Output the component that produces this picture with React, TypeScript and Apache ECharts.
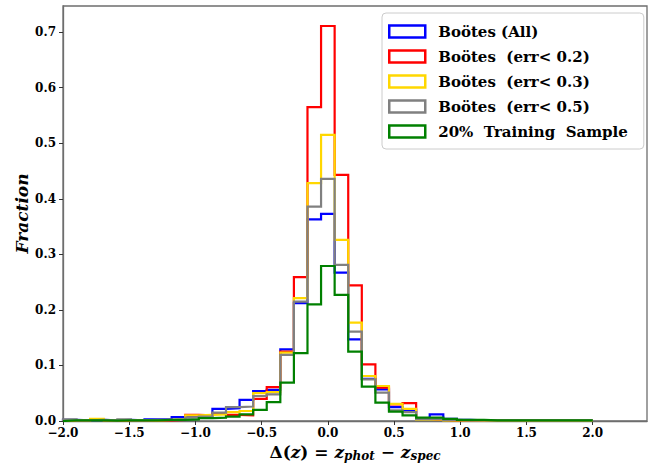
import React, { useEffect, useRef } from "react";
import * as echarts from "echarts";

// Bin edges: 40 edges between -2 and 2 (39 bins)
const BIN_MIN = -2;
const BIN_MAX = 2;
const N_EDGES = 40;

const SERIES_NAMES = [
  "Boötes (All)",
  "Boötes  (err< 0.2)",
  "Boötes  (err< 0.3)",
  "Boötes  (err< 0.5)",
  "20%  Training  Sample",
];
const SERIES_COLORS = ["#0000ff", "#ff0000", "#ffd700", "#808080", "#008000"];

const bootesAll = [
  0.002, 0.001, 0.002, 0.001, 0.002, 0.001, 0.003, 0.003, 0.007, 0.008,
  0.010, 0.022, 0.023, 0.038, 0.054, 0.056, 0.129, 0.212, 0.363, 0.373,
  0.267, 0.147, 0.076, 0.057, 0.025, 0.020, 0.004, 0.012, 0.004, 0.002,
  0.001, 0.001, 0.001, 0.001, 0.001, 0.001, 0.001, 0.001, 0.001,
];
const bootesErr02 = [
  0.001, 0.0005, 0.002, 0.0005, 0.001, 0.0005, 0.001, 0.001, 0.002, 0.011,
  0.010, 0.013, 0.011, 0.010, 0.040, 0.061, 0.125, 0.259, 0.565, 0.711,
  0.443, 0.244, 0.102, 0.060, 0.030, 0.032, 0.002, 0.002, 0.001, 0.001,
  0.0005, 0.0005, 0.0005, 0.0005, 0.0005, 0.0005, 0.0005, 0.0005, 0.0005,
];
const bootesErr03 = [
  0.001, 0.001, 0.004, 0.001, 0.001, 0.001, 0.001, 0.002, 0.003, 0.010,
  0.011, 0.012, 0.016, 0.018, 0.050, 0.052, 0.123, 0.221, 0.428, 0.515,
  0.326, 0.177, 0.081, 0.063, 0.031, 0.022, 0.002, 0.003, 0.001, 0.001,
  0.0005, 0.0005, 0.0005, 0.0005, 0.0005, 0.0005, 0.0005, 0.0005, 0.0005,
];
const bootesErr05 = [
  0.003, 0.001, 0.002, 0.001, 0.003, 0.001, 0.002, 0.002, 0.003, 0.006,
  0.008, 0.015, 0.025, 0.026, 0.045, 0.048, 0.119, 0.215, 0.386, 0.436,
  0.281, 0.161, 0.075, 0.051, 0.019, 0.016, 0.003, 0.004, 0.002, 0.001,
  0.001, 0.001, 0.001, 0.001, 0.001, 0.001, 0.001, 0.001, 0.001,
];
const trainingSample = [
  0.001, 0.001, 0.001, 0.0005, 0.001, 0.001, 0.001, 0.002, 0.002, 0.003,
  0.005, 0.006, 0.008, 0.012, 0.020, 0.034, 0.069, 0.122, 0.210, 0.279,
  0.227, 0.125, 0.062, 0.033, 0.017, 0.010, 0.006, 0.006, 0.004, 0.002,
  0.002, 0.001, 0.001, 0.001, 0.001, 0.001, 0.001, 0.001, 0.001,
];

const SERIES_VALUES = [bootesAll, bootesErr02, bootesErr03, bootesErr05, trainingSample];

const X_TICKS_MAX = 2.0;
const Y_TICKS_MAX = 0.7;

const EDGES = Array.from(
  { length: N_EDGES },
  (_, k) => BIN_MIN + (k * (BIN_MAX - BIN_MIN)) / (N_EDGES - 1)
);

function stepPoints(vals: number[]): number[][] {
  const pts: number[][] = [[EDGES[0], 0]];
  vals.forEach((v, i) => {
    pts.push([EDGES[i], v]);
    pts.push([EDGES[i + 1], v]);
  });
  pts.push([EDGES[vals.length], 0]);
  return pts;
}

const FONT = "DejaVu Serif";

function fmtTick(v: number) {
  const s = Math.abs(v).toFixed(1);
  return v < -1e-9 ? "\u2212" + s : s;
}

export default function App() {
  const ref = useRef<HTMLDivElement>(null);
  useEffect(() => {
    if (!ref.current) return;
    const chart = echarts.init(ref.current, undefined, { renderer: "svg" });
    const option: any = {
      animation: false,
      backgroundColor: "#ffffff",
      grid: {
        left: 63,
        right: 10,
        top: 6,
        bottom: 42,
        containLabel: false,
        outerBoundsMode: "none",
        show: true,
        borderColor: "#6e6e6e",
        borderWidth: 1.3,
        backgroundColor: "transparent",
      },
      legend: {
        orient: "vertical",
        left: 382,
        top: 13,
        itemWidth: 36,
        itemHeight: 12,
        itemGap: 10,
        padding: [11, 16, 10, 6],
        backgroundColor: "#ffffff",
        borderColor: "#cccccc",
        borderWidth: 1,
        borderRadius: 4,
        textStyle: {
          fontFamily: FONT,
          fontWeight: "bold",
          fontSize: 15,
          color: "#000",
          padding: [0, 0, 0, 8],
        },
        data: SERIES_NAMES.map((n, i) => ({
          name: n,
          icon: "rect",
          itemStyle: {
            color: "rgba(255,255,255,0)",
            borderColor: SERIES_COLORS[i],
            borderWidth: 2.5,
          },
        })),
      },
      xAxis: {
        type: "value",
        min: -2,
        max: 2.41,
        interval: 0.5,
        splitLine: { show: false },
        axisLine: { show: true, onZero: false, lineStyle: { color: "#6e6e6e", width: 1.3 } },
        axisTick: { show: true, inside: false, length: 4, lineStyle: { color: "#333" } },
        axisLabel: {
          fontFamily: FONT,
          fontWeight: "bold",
          fontSize: 12,
          color: "#000",
          margin: 6,
          showMaxLabel: false,
          formatter: (v: number) => (v > X_TICKS_MAX + 1e-6 ? "" : fmtTick(v)),
        },
        name: "{a|\u0394(}{i|z}{a|) = }{i|z}{s|phot}{a| \u2212 }{i|z}{s|spec}",
        nameLocation: "middle",
        nameGap: 19,
        nameTextStyle: {
          rich: {
            a: { fontFamily: FONT, fontWeight: "bold", fontSize: 17, color: "#000", lineHeight: 20, verticalAlign: "middle" },
            i: { fontFamily: FONT, fontWeight: "bold", fontStyle: "italic", fontSize: 17, color: "#000", lineHeight: 20, verticalAlign: "middle" },
            s: { fontFamily: FONT, fontWeight: "bold", fontStyle: "italic", fontSize: 12, color: "#000", lineHeight: 20, verticalAlign: "bottom" },
          },
        },
      },
      yAxis: {
        type: "value",
        min: 0,
        max: 0.747,
        interval: 0.1,
        splitLine: { show: false },
        axisLine: { show: true, onZero: false, lineStyle: { color: "#6e6e6e", width: 1.3 } },
        axisTick: { show: true, inside: false, length: 4, lineStyle: { color: "#333" } },
        axisLabel: {
          fontFamily: FONT,
          fontWeight: "bold",
          fontSize: 12,
          color: "#000",
          margin: 7,
          showMaxLabel: false,
          formatter: (v: number) => (v > Y_TICKS_MAX + 1e-6 ? "" : fmtTick(v)),
        },
        name: "Fraction",
        nameLocation: "middle",
        nameGap: 33,
        nameMoveOverlap: false,
        nameTextStyle: {
          fontFamily: FONT,
          fontWeight: "bold",
          fontStyle: "italic",
          fontSize: 17,
          color: "#000",
        },
      },
      series: SERIES_NAMES.map((n, i) => ({
        name: n,
        type: "line",
        data: stepPoints(SERIES_VALUES[i]),
        showSymbol: false,
        symbol: "none",
        itemStyle: { color: SERIES_COLORS[i] },
        lineStyle: { color: SERIES_COLORS[i], width: 2.2, join: "miter" },
        silent: true,
      })),
    };
    chart.setOption(option);
    return () => chart.dispose();
  }, []);
  return (
    <div
      ref={ref}
      style={{ position: "fixed", left: 0, top: 0, width: 657, height: 463 }}
    />
  );
}
